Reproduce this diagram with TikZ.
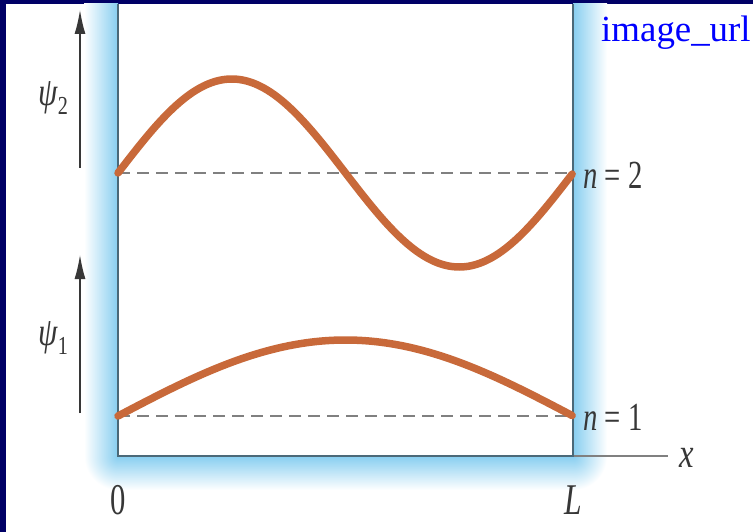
\documentclass[tikz,border=0pt]{standalone}
\usepackage{fontspec}
\setmainfont{Liberation Serif}
\usetikzlibrary{arrows.meta}
\definecolor{navy}{RGB}{0,0,102}
\definecolor{wallblue}{RGB}{135,206,240}
\definecolor{wallline}{RGB}{75,105,120}
\definecolor{wave}{RGB}{200,105,58}
\definecolor{labelgray}{RGB}{55,55,55}
\definecolor{urlblue}{RGB}{0,0,255}
\tikzset{
  wavecurve/.style={wave, line width=7.5bp, line cap=round},
  levelline/.style={gray, line width=2.2bp, dash pattern=on 12bp off 7bp},
  psiarrow/.style={labelgray, line width=1.3bp, -{Latex[length=24bp,width=11bp]}},
  lbl/.style={text=labelgray, inner sep=0pt},
  wallstroke/.style={wallline, line width=2.2bp},
}
\begin{document}
\begin{tikzpicture}[x=1bp,y=-1bp]
\useasboundingbox (0,0) rectangle (753,532);
% background
\fill[navy] (0,0) rectangle (753,532);
\fill[white] (6,4) rectangle (753,532);
% blue wall bands
\shade[left color=white, right color=wallblue] (84,4) rectangle (118,456);
\shade[left color=wallblue, right color=white] (573,4) rectangle (607,456);
\shade[top color=wallblue, bottom color=white] (118,456) rectangle (573,490);
\begin{scope}
  \clip (84,456) rectangle (118,490);
  \shade[inner color=wallblue, outer color=white] (118,456) circle (34);
\end{scope}
\begin{scope}
  \clip (573,456) rectangle (607,490);
  \shade[inner color=wallblue, outer color=white] (573,456) circle (34);
\end{scope}
% walls and axis
\coordinate (tl) at (118,4);
\coordinate (bl) at (118,456);
\coordinate (br) at (573,456);
\coordinate (tr) at (573,4);
\coordinate (xend) at (668,456);
\draw[gray, line width=2bp] (br) -- (xend);
\draw[wallstroke] (tl) -- (bl) -- (br) -- (tr);
% level lines
\coordinate (l2a) at (118,173);
\coordinate (l2b) at (573,173);
\coordinate (l1a) at (118,416);
\coordinate (l1b) at (573,416);
\draw[levelline] (l2a) -- (l2b);
\draw[levelline] (l1a) -- (l1b);
% wave functions
\draw[wavecurve] plot[domain=0:1, samples=150, smooth] ({118+455*\x},{173-94*sin(360*\x)});
\draw[wavecurve] plot[domain=0:1, samples=150, smooth] ({118+455*\x},{416-76*sin(180*\x)});
% arrows
\coordinate (a2s) at (80,168);
\coordinate (a2e) at (80,10);
\coordinate (a1s) at (80,413);
\coordinate (a1e) at (80,255);
\draw[psiarrow] (a2s) -- (a2e);
\draw[psiarrow] (a1s) -- (a1e);
% labels
\node[lbl] (psi2) at (53,98) {\fontsize{40}{40}\selectfont\scalebox{0.78}[1]{\textit{ψ}\raisebox{-0.22em}{\fontsize{26}{26}\selectfont 2}}};
\node[lbl] (psi1) at (53,338) {\fontsize{40}{40}\selectfont\scalebox{0.78}[1]{\textit{ψ}\raisebox{-0.22em}{\fontsize{26}{26}\selectfont 1}}};
\node[lbl, anchor=west] (n2) at (583,175) {\fontsize{40}{40}\selectfont\scalebox{0.72}[1]{\textit{n} = 2}};
\node[lbl, anchor=west] (n1) at (583,417) {\fontsize{40}{40}\selectfont\scalebox{0.72}[1]{\textit{n} = 1}};
\node[lbl] (xl) at (687,458) {\fontsize{42}{42}\selectfont\scalebox{0.78}[1]{\textit{x}}};
\node[lbl] (zero) at (118,500) {\fontsize{44}{44}\selectfont\scalebox{0.7}[1]{0}};
\node[lbl] (ell) at (573,500) {\fontsize{44}{44}\selectfont\scalebox{0.72}[1]{\textit{L}}};
\node[text=urlblue, inner sep=0pt, anchor=base west] (url) at (601,42) {\fontsize{37}{37}\selectfont image\_url};
\end{tikzpicture}
\end{document}
